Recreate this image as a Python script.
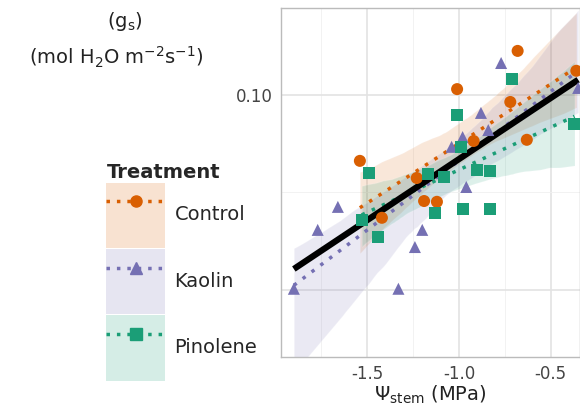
import numpy as np, pandas as pd, matplotlib
matplotlib.use("Agg")
import matplotlib.pyplot as plt, seaborn as sns
from matplotlib.patches import Patch
from matplotlib.lines import Line2D

ctrl_x = [-1.54,-0.68,-0.36,-1.01,-0.72,-0.63,-0.92,-0.99,-1.23,-1.19,-1.12,-1.42]
ctrl_y = [0.0831,0.1113,0.1062,0.1015,0.0982,0.0885,0.0882,0.0867,0.0787,0.0728,0.0726,0.0685]
kao_x = [-1.90,-1.77,-1.66,-1.33,-1.24,-1.20,-0.96,-1.04,-0.98,-0.88,-0.84,-0.77,-0.35]
kao_y = [0.0503,0.0654,0.0713,0.0503,0.0610,0.0654,0.0764,0.0867,0.0892,0.0954,0.0910,0.1082,0.1018]
pin_x = [-1.49,-1.53,-1.44,-1.13,-1.17,-1.08,-1.01,-0.99,-0.98,-0.90,-0.83,-0.83,-0.71,-0.37]
pin_y = [0.080,0.068,0.0636,0.0697,0.0797,0.079,0.0949,0.0867,0.0708,0.0808,0.0805,0.0708,0.1041,0.0926]
treatments = ["Control","Kaolin","Pinolene"]
colors = ["#D95F02","#7570B3","#1B9E77"]
markers = ["o","^","s"]

df = pd.concat([
    pd.DataFrame({"x":ctrl_x,"y":ctrl_y,"t":"Control"}),
    pd.DataFrame({"x":kao_x,"y":kao_y,"t":"Kaolin"}),
    pd.DataFrame({"x":pin_x,"y":pin_y,"t":"Pinolene"})])

sns.set_style("whitegrid")
fig = plt.figure(figsize=(5.8,4.13), dpi=100)
ax = fig.add_axes([0.4845,0.1356,0.5155,0.845])
for t,c,m in zip(treatments,colors,markers):
    d = df[df.t==t]
    sns.regplot(data=d, x="x", y="y", ax=ax, scatter=False, color=c, ci=95,
                line_kws=dict(ls=(0,(1,2.2)), lw=2.5), truncate=True)
    ax.collections[-1].set_alpha(0.15)
for t,c,m in zip(treatments,colors,markers):
    d = df[df.t==t]
    sns.scatterplot(data=d, x="x", y="y", ax=ax, color=c, marker=m, s=75, edgecolor="none", zorder=5, legend=False)
sns.regplot(data=df, x="x", y="y", ax=ax, scatter=False, ci=None, color="black",
            line_kws=dict(lw=4.5, solid_capstyle="butt"), truncate=True)

ax.set_xlim(-1.97,-0.34); ax.set_ylim(0.0328,0.1223)
ax.set_xticks([-1.5,-1.0,-0.5]); ax.set_xticklabels(["-1.5","-1.0","-0.5"])
ax.set_xticks([-1.75,-1.25,-0.75], minor=True)
ax.set_yticks([0.05,0.10]); ax.set_yticklabels(["","0.10"])
ax.set_yticks([0.075], minor=True)
ax.grid(True, which="major", color="#e3e3e3", lw=1.2)
ax.grid(True, which="minor", color="#f0f0f0", lw=0.6)
ax.tick_params(which="major", length=4, color="#333333", labelsize=12, labelcolor="#444444", pad=2)
ax.tick_params(which="minor", length=0)
for s in ax.spines.values():
    s.set_color("#bbbbbb"); s.set_linewidth(1)
ax.set_xlabel(r"$\Psi_{\mathrm{stem}}$ (MPa)", fontsize=14, labelpad=0, color="#222222")
ax.set_ylabel("")
fig.text(0.215,0.935,r"(g$_\mathrm{s}$)", ha="center", fontsize=14, color="#222222")
fig.text(0.2,0.845,r"(mol H$_2$O m$^{-2}$s$^{-1}$)", ha="center", fontsize=14, color="#222222")

handles = [(Patch(facecolor=c, alpha=0.18, edgecolor="none"),
            Line2D([],[],color=c,ls=(0,(1,2)),lw=2.5,marker=m,markersize=8))
           for c,m in zip(colors,markers)]
leg = fig.legend(handles, treatments, loc="upper left", bbox_to_anchor=(0.17,0.625),
                 title="Treatment", frameon=False, fontsize=14, handlelength=3.0,
                 handleheight=4.8, labelspacing=0.05, handletextpad=0.5, borderaxespad=0)
leg.get_title().set_fontweight("bold"); leg.get_title().set_fontsize(14)
leg._legend_box.align = "left"
fig.savefig("out.png", dpi=100)
